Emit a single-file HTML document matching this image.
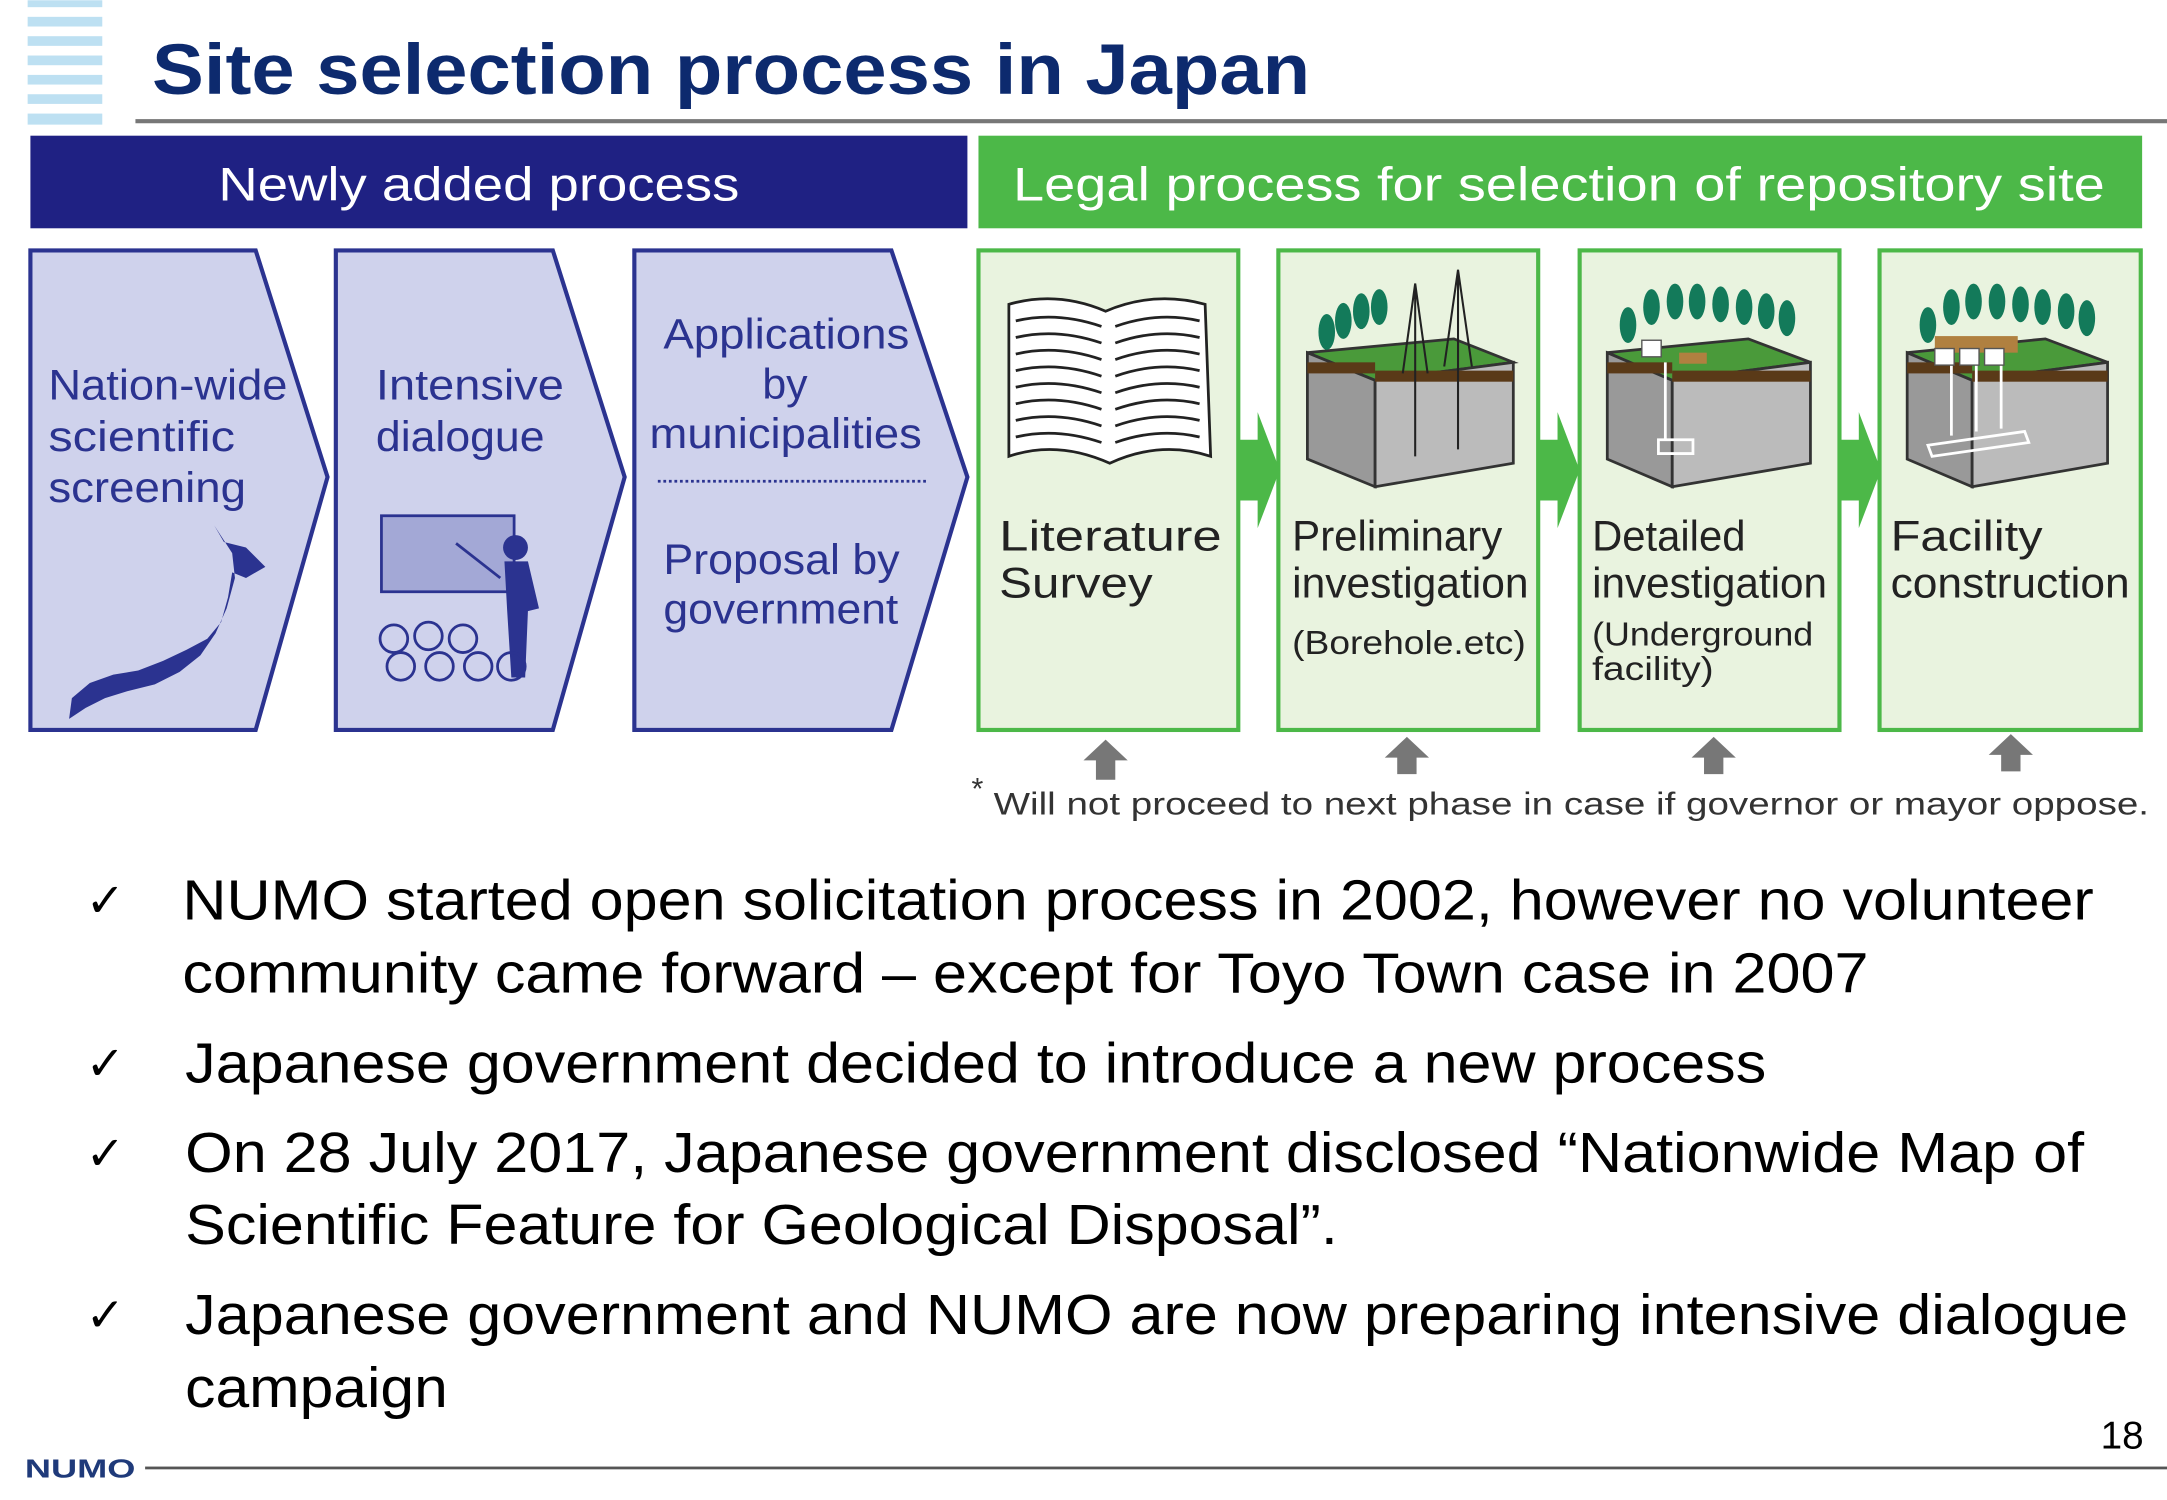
<!DOCTYPE html>
<html><head><meta charset="utf-8"><style>
html,body{margin:0;padding:0;background:#fff;width:2167px;height:1500px;overflow:hidden}
svg{display:block}
text{font-family:"Liberation Sans","DejaVu Sans",sans-serif}
</style></head><body>
<svg width="2167" height="1500" viewBox="0 0 1568 1085" xmlns="http://www.w3.org/2000/svg">
<g fill="#bde0f2">
<rect x="20" y="0" width="54" height="5"/><rect x="20" y="12" width="54" height="7"/><rect x="20" y="26" width="54" height="7"/><rect x="20" y="40" width="54" height="7"/><rect x="20" y="54" width="54" height="7"/><rect x="20" y="68" width="54" height="7"/><rect x="20" y="82" width="54" height="8"/>
</g>
<text x="110" y="68" font-size="52" font-weight="bold" fill="#0d2a6e" textLength="838" lengthAdjust="spacingAndGlyphs">Site selection process in Japan</text>
<rect x="98" y="86" width="1470" height="3" fill="#777"/>
<rect x="22" y="98" width="678" height="67" fill="#1f2183"/>
<text x="158" y="145" font-size="34" fill="#fff" textLength="377" lengthAdjust="spacingAndGlyphs">Newly added process</text>
<rect x="708" y="98" width="842" height="67" fill="#4cb848"/>
<text x="733" y="145" font-size="34" fill="#fff" textLength="790" lengthAdjust="spacingAndGlyphs">Legal process for selection of repository site</text>

<g fill="#cfd2ec" stroke="#2b3390" stroke-width="3">
<path d="M22,181 L185,181 L237,345 L185,528 L22,528 Z"/>
<path d="M243,181 L400,181 L452,345 L400,528 L243,528 Z"/>
<path d="M459,181 L645,181 L700,345 L645,528 L459,528 Z"/>
</g>
<g font-size="31" fill="#2b3390" lengthAdjust="spacingAndGlyphs">
<text x="35" y="289" textLength="173" lengthAdjust="spacingAndGlyphs">Nation-wide</text><text x="35" y="326" textLength="135" lengthAdjust="spacingAndGlyphs">scientific</text><text x="35" y="363" textLength="143" lengthAdjust="spacingAndGlyphs">screening</text>
<text x="272" y="289" textLength="136" lengthAdjust="spacingAndGlyphs">Intensive</text><text x="272" y="326" textLength="122" lengthAdjust="spacingAndGlyphs">dialogue</text>
<text x="480" y="252" textLength="178" lengthAdjust="spacingAndGlyphs">Applications</text><text x="568" y="288" text-anchor="middle">by</text><text x="470" y="324" textLength="197" lengthAdjust="spacingAndGlyphs">municipalities</text>
<text x="480" y="415" textLength="171" lengthAdjust="spacingAndGlyphs">Proposal by</text><text x="480" y="451" textLength="170" lengthAdjust="spacingAndGlyphs">government</text>
</g>
<line x1="476" y1="348" x2="672" y2="348" stroke="#2b3390" stroke-width="2" stroke-dasharray="2,2"/>
<!-- Japan map approx -->
<path d="M155,380 L162,392 L178,396 L192,410 L178,418 L168,414 L165,432 L160,450 L150,462 L135,470 L118,478 L100,485 L82,488 L65,494 L52,505 L50,520 L62,512 L76,505 L92,500 L112,495 L130,486 L145,474 L156,458 L164,440 L170,418 L168,400 Z" fill="#2b3390"/>
<!-- classroom -->
<rect x="276" y="373" width="96" height="55" fill="#a3a8d6" stroke="#2b3390" stroke-width="2"/>
<circle cx="373" cy="396" r="9" fill="#2b3390"/>
<path d="M365,406 L382,406 L390,440 L382,442 L380,490 L370,490 L367,442 Z" fill="#2b3390"/>
<line x1="330" y1="393" x2="362" y2="418" stroke="#2b3390" stroke-width="2"/>
<g fill="none" stroke="#2b3390" stroke-width="2">
<circle cx="285" cy="462" r="10"/><circle cx="310" cy="460" r="10"/><circle cx="335" cy="462" r="10"/><circle cx="290" cy="482" r="10"/><circle cx="318" cy="482" r="10"/><circle cx="346" cy="482" r="10"/><circle cx="370" cy="482" r="10"/>
</g>

<g fill="#e9f3df" stroke="#4cb848" stroke-width="3">
<rect x="708" y="181" width="188" height="347"/>
<rect x="925" y="181" width="188" height="347"/>
<rect x="1143" y="181" width="188" height="347"/>
<rect x="1360" y="181" width="189" height="347"/>
</g>
<g fill="#4cb848">
<path d="M897,318 L910,318 L910,298 L926,340 L910,382 L910,362 L897,362 Z"/>
<path d="M1114,318 L1127,318 L1127,298 L1143,340 L1127,382 L1127,362 L1114,362 Z"/>
<path d="M1332,318 L1345,318 L1345,298 L1361,340 L1345,382 L1345,362 L1332,362 Z"/>
</g>
<!-- book -->
<path d="M730,220 Q765,210 800,225 Q835,210 872,220 L876,330 Q840,318 803,335 Q765,318 730,330 Z" fill="#fff" stroke="#222" stroke-width="2"/>
<g stroke="#222" stroke-width="2" fill="none">
<path d="M735,232 Q765,225 797,236 M735,244 Q765,237 797,248 M735,256 Q765,249 797,260 M735,268 Q765,261 797,272 M735,280 Q765,273 797,284 M735,292 Q765,285 797,296 M735,304 Q765,297 797,308 M735,316 Q765,309 797,320"/>
<path d="M807,236 Q838,225 868,232 M807,248 Q838,237 868,244 M807,260 Q838,249 868,256 M807,272 Q838,261 868,268 M807,284 Q838,273 868,280 M807,296 Q838,285 868,292 M807,308 Q838,297 868,304 M807,320 Q838,309 868,316"/>
</g>
<!-- ground blocks -->
<g stroke="#333" stroke-width="2">
<path d="M946,255 L1052,245 L1095,262 L995,275 Z" fill="#4a9a3a"/>
<path d="M946,255 L995,275 L995,352 L946,332 Z" fill="#999"/>
<path d="M995,275 L1095,262 L1095,335 L995,352 Z" fill="#bbb"/>
<path d="M1163,255 L1265,245 L1310,262 L1210,275 Z" fill="#4a9a3a"/>
<path d="M1163,255 L1210,275 L1210,352 L1163,332 Z" fill="#999"/>
<path d="M1210,275 L1310,262 L1310,335 L1210,352 Z" fill="#bbb"/>
<path d="M1380,255 L1480,245 L1525,262 L1427,275 Z" fill="#4a9a3a"/>
<path d="M1380,255 L1427,275 L1427,352 L1380,332 Z" fill="#999"/>
<path d="M1427,275 L1525,262 L1525,335 L1427,352 Z" fill="#bbb"/>
</g>
<g fill="#5a3a18"><rect x="946" y="262" width="49" height="8"/><rect x="995" y="268" width="100" height="8"/><rect x="1163" y="262" width="47" height="8"/><rect x="1210" y="268" width="100" height="8"/><rect x="1380" y="262" width="47" height="8"/><rect x="1427" y="268" width="98" height="8"/></g>
<g fill="#b08040"><rect x="1215" y="255" width="20" height="8"/><rect x="1400" y="243" width="60" height="12"/></g>
<g stroke="#fff" stroke-width="2" fill="none"><path d="M1205,262 L1205,318 M1200,318 h25 v10 h-25 z M1412,262 V315 M1430,262 V312 M1448,262 V310 M1395,322 L1465,312 L1468,320 L1398,330 Z"/></g>
<g fill="#137a5a">
<ellipse cx="960" cy="240" rx="6" ry="13"/><ellipse cx="972" cy="232" rx="6" ry="13"/><ellipse cx="985" cy="225" rx="6" ry="13"/><ellipse cx="998" cy="222" rx="6" ry="13"/>
<ellipse cx="1178" cy="235" rx="6" ry="13"/><ellipse cx="1195" cy="222" rx="6" ry="13"/><ellipse cx="1212" cy="218" rx="6" ry="13"/><ellipse cx="1228" cy="218" rx="6" ry="13"/><ellipse cx="1245" cy="220" rx="6" ry="13"/><ellipse cx="1262" cy="222" rx="6" ry="13"/><ellipse cx="1278" cy="225" rx="6" ry="13"/><ellipse cx="1293" cy="230" rx="6" ry="13"/>
<ellipse cx="1395" cy="235" rx="6" ry="13"/><ellipse cx="1412" cy="222" rx="6" ry="13"/><ellipse cx="1428" cy="218" rx="6" ry="13"/><ellipse cx="1445" cy="218" rx="6" ry="13"/><ellipse cx="1462" cy="220" rx="6" ry="13"/><ellipse cx="1478" cy="222" rx="6" ry="13"/><ellipse cx="1495" cy="225" rx="6" ry="13"/><ellipse cx="1510" cy="230" rx="6" ry="13"/>
</g>
<g stroke="#222" stroke-width="1.5" fill="none">
<path d="M1015,270 L1024,205 L1033,270 M1024,205 V330 M1045,265 L1055,195 L1065,265 M1055,195 V325"/>
</g>
<g fill="#fff" stroke="#555"><rect x="1188" y="246" width="14" height="12"/><rect x="1400" y="252" width="14" height="12"/><rect x="1418" y="252" width="14" height="12"/><rect x="1436" y="252" width="14" height="12"/></g>

<g font-size="31" fill="#222">
<text x="723" y="398" textLength="161" lengthAdjust="spacingAndGlyphs">Literature</text><text x="723" y="432" textLength="111" lengthAdjust="spacingAndGlyphs">Survey</text>
<text x="935" y="398" textLength="152" lengthAdjust="spacingAndGlyphs">Preliminary</text><text x="935" y="432" textLength="171" lengthAdjust="spacingAndGlyphs">investigation</text>
<text x="1152" y="398" textLength="111" lengthAdjust="spacingAndGlyphs">Detailed</text><text x="1152" y="432" textLength="170" lengthAdjust="spacingAndGlyphs">investigation</text>
<text x="1368" y="398" textLength="110" lengthAdjust="spacingAndGlyphs">Facility</text><text x="1368" y="432" textLength="173" lengthAdjust="spacingAndGlyphs">construction</text>
</g>
<g font-size="24" fill="#222">
<text x="935" y="473" textLength="169" lengthAdjust="spacingAndGlyphs">(Borehole.etc)</text>
<text x="1152" y="467" textLength="160" lengthAdjust="spacingAndGlyphs">(Underground</text><text x="1152" y="492" textLength="88" lengthAdjust="spacingAndGlyphs">facility)</text>
</g>
<g fill="#777">
<path d="M784,550 L800,535 L816,550 L807,550 L807,564 L793,564 L793,550 Z"/>
<path d="M1002,548 L1018,533 L1034,548 L1025,548 L1025,560 L1011,560 L1011,548 Z"/>
<path d="M1224,548 L1240,533 L1256,548 L1247,548 L1247,560 L1233,560 L1233,548 Z"/>
<path d="M1439,546 L1455,531 L1471,546 L1462,546 L1462,558 L1448,558 L1448,546 Z"/>
</g>
<text x="703" y="578" font-size="22" fill="#333">*</text>
<text x="719" y="589" font-size="23" fill="#333" textLength="836" lengthAdjust="spacingAndGlyphs">Will not proceed to next phase in case if governor or mayor oppose.</text>

<g font-size="41" fill="#000">
<text x="62" y="663" font-size="34">✓</text>
<text x="132" y="665" textLength="1383" lengthAdjust="spacingAndGlyphs">NUMO started open solicitation process in 2002, however no volunteer</text>
<text x="132" y="718" textLength="1220" lengthAdjust="spacingAndGlyphs">community came forward – except for Toyo Town case in 2007</text>
<text x="62" y="781" font-size="34">✓</text>
<text x="134" y="783" textLength="1144" lengthAdjust="spacingAndGlyphs">Japanese government decided to introduce a new process</text>
<text x="62" y="846" font-size="34">✓</text>
<text x="134" y="848" textLength="1374" lengthAdjust="spacingAndGlyphs">On 28 July 2017, Japanese government disclosed “Nationwide Map of</text>
<text x="134" y="900" textLength="834" lengthAdjust="spacingAndGlyphs">Scientific Feature for Geological Disposal”.</text>
<text x="62" y="963" font-size="34">✓</text>
<text x="134" y="965" textLength="1406" lengthAdjust="spacingAndGlyphs">Japanese government and NUMO are now preparing intensive dialogue</text>
<text x="134" y="1018" textLength="190" lengthAdjust="spacingAndGlyphs">campaign</text>
</g>
<text x="1520" y="1048" font-size="28" fill="#000">18</text>
<rect x="105" y="1061" width="1463" height="2" fill="#555"/>
<text x="18" y="1069" font-size="19" font-weight="bold" fill="#1f3a7a" textLength="80" lengthAdjust="spacingAndGlyphs">NUMO</text>
</svg>
</body></html>
